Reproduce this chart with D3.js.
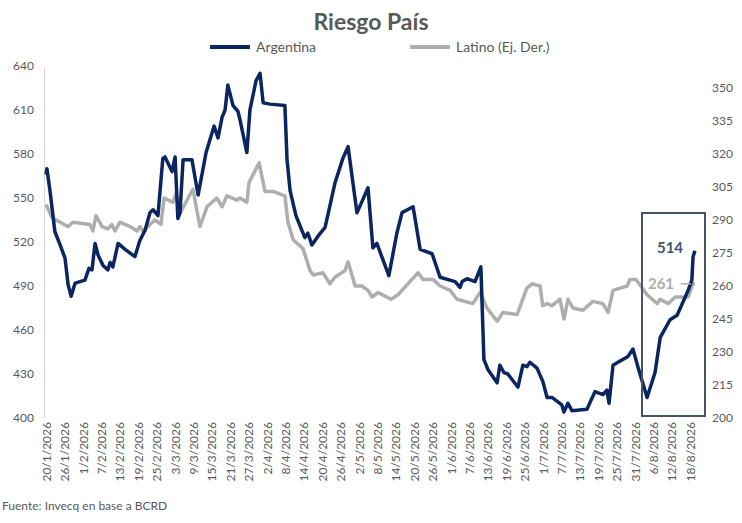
<!DOCTYPE html>
<html>
<head>
<meta charset="utf-8">
<script src="https://cdn.jsdelivr.net/npm/d3@7"></script>
<style>
  body { margin: 0; background: #fff; }
  text { font-family: Lato, "Open Sans", sans-serif; }
</style>
</head>
<body>
<div id="container"></div>
<script>
// days counted from 20/1/2026
const argDays = [0,0.3,1.3,2.9,4.6,6.2,7.2,8.2,9.5,11.1,12.7,14,15,16,17,18.6,20.2,20.9,21.8,23.5,25.8,29,30.6,32.3,33.9,34.9,36.5,38.1,38.8,41.1,42.1,43,43.7,44.7,47.6,49.6,52.2,54.8,56.1,57.4,58.4,59.3,61,62.6,63.3,65.5,66.5,68.5,69.8,70.8,73,77.9,78.6,79.6,81.5,84.4,85.4,86.7,88.7,91,92.3,94.2,96.8,98.5,101.4,102.7,105,106.6,107.9,111.8,114.4,116.1,119.7,122,125.9,128.5,133.4,135,135.7,137.3,139.9,141.8,142.8,144.1,147.1,148,149.3,150.6,153.9,155.5,156.8,157.8,160.1,162,163.4,165,168.2,168.9,170.2,171.5,176.4,179,181.6,182.9,183.6,184.9,186.5,189.8,191.4,193,196,198.6,200.3,203.5,205.8,209.4,210.6,211,211.6];
const argValues = [566,570,555,527,518,509,491,483,492,493,494,502,501,519,511,504,501,506,503,519,515,510,521,528,540,542,538,577,578,568,578,536,540,576,576,552,581,599,591,605,610,627,613,609,603,581,610,630,635,615,614,613,576,555,538,523,526,518,524,530,542,560,577,585,540,546,557,516,519,497,526,540,544,515,512,496,493,489,493,495,493,503,440,433,424,436,431,430,421,436,435,438,434,425,414,414,409,404,410,405,406,418,416,419,410,436,438,442,447,435,414,431,455,467,470,487,494,510,514];

const latDays = [0,2,4.6,7.2,8.8,14.3,15.3,16.3,18.3,20.2,21.5,22.5,24.1,27.4,29.7,30.6,31.6,35.5,37.5,38.5,41.4,42.4,43.7,47.9,50.2,52.5,55.7,57.4,59,62.3,63.3,65.5,66.2,69.5,71.4,74,77.9,78.9,80.6,83.8,86.1,87.1,90.3,92.6,94.2,97.5,98.5,100.8,103,105,106.3,108.3,112.5,114.8,121.3,122.9,126.2,128.5,131.8,134,139.2,141.5,143.8,147.1,149,153.6,156.8,158.5,161.1,162,163.4,165,167.6,168.9,170.2,171.8,175.1,178.3,181.6,183.3,184.9,189.5,190.4,192.4,196,199.3,200.3,202.9,205.2,209.4,211,211.6];
const latValues = [297,291,289,287,289,288,285,292,287,286,288,285,289,287,285,287,285,290,288,300,298,302,293,304,287,296,300,296,301,299,300,298,307,316,303,303,301,289,281,277,267,265,266,261,264,267,271,260,260,258,255,257,254,256,266,263,263,260,258,254,252,257,250,244,248,247,259,261,260,251,252,251,254,245,254,250,249,253,252,248,258,260,263,263,256,252,254,252,255,255,261,261];

const tickLabels = ["20/1/2026","26/1/2026","1/2/2026","7/2/2026","13/2/2026","19/2/2026","25/2/2026","3/3/2026","9/3/2026","15/3/2026","21/3/2026","27/3/2026","2/4/2026","8/4/2026","14/4/2026","20/4/2026","26/4/2026","2/5/2026","8/5/2026","14/5/2026","20/5/2026","26/5/2026","1/6/2026","7/6/2026","13/6/2026","19/6/2026","25/6/2026","1/7/2026","7/7/2026","13/7/2026","19/7/2026","25/7/2026","31/7/2026","6/8/2026","12/8/2026","18/8/2026"];
const leftTicks = [400,430,460,490,520,550,580,610,640];
const rightTicks = [200,215,230,245,260,275,290,305,320,335,350];

const width = 742, height = 523;
const grey = "#595959", navy = "#0b2561", lgrey = "#aeaeae";

const svg = d3.select("#container").append("svg")
  .attr("width", width).attr("height", height);

const x = d3.scaleLinear().domain([0, 210]).range([46, 690]);
const yL = d3.scaleLinear().domain([400, 640]).range([418, 66]);
const yR = d3.scaleLinear().domain([200, 360]).range([418, 66]);

svg.append("text").attr("x", 371).attr("y", 30).attr("text-anchor", "middle")
  .attr("font-size", 23).attr("font-weight", "bold").attr("fill", grey).text("Riesgo País");

// legend
svg.append("line").attr("x1", 210).attr("x2", 250).attr("y1", 47).attr("y2", 47)
  .attr("stroke", navy).attr("stroke-width", 4);
svg.append("text").attr("x", 256).attr("y", 52).attr("font-size", 14).attr("fill", grey).text("Argentina");
svg.append("line").attr("x1", 410).attr("x2", 450).attr("y1", 47).attr("y2", 47)
  .attr("stroke", lgrey).attr("stroke-width", 4);
svg.append("text").attr("x", 456).attr("y", 52).attr("font-size", 14).attr("fill", grey).text("Latino (Ej. Der.)");

// axes
const gL = svg.append("g").attr("transform", "translate(44,0)")
  .call(d3.axisLeft(yL).tickValues(leftTicks).tickSize(0).tickPadding(10));
gL.select(".domain").attr("stroke", "#d9d9d9");
const gR = svg.append("g").attr("transform", "translate(706,0)")
  .call(d3.axisRight(yR).tickValues(rightTicks).tickSize(0).tickPadding(6));
gR.select(".domain").remove();
const gX = svg.append("g").attr("transform", "translate(0,418)")
  .call(d3.axisBottom(x).tickValues(d3.range(0, 211, 6)).tickSize(0)
    .tickFormat((d, i) => tickLabels[i]));
gX.select(".domain").remove();
gX.selectAll("text").attr("transform", "rotate(-90)").attr("text-anchor", "end")
  .attr("dx", "-4").attr("dy", "0.35em").attr("x", 0).attr("y", 0);
svg.selectAll(".tick text").attr("font-family", "Lato, sans-serif").attr("font-size", 12).attr("fill", grey);

// lines
const latData = latDays.map((d, i) => [d, latValues[i]]);
const argData = argDays.map((d, i) => [d, argValues[i]]);
svg.append("path").datum(latData)
  .attr("fill", "none").attr("stroke", lgrey).attr("stroke-width", 3.5).attr("stroke-linejoin", "round")
  .attr("d", d3.line().x(d => x(d[0])).y(d => yR(d[1])));
svg.append("path").datum(argData)
  .attr("fill", "none").attr("stroke", navy).attr("stroke-width", 3.5).attr("stroke-linejoin", "round")
  .attr("d", d3.line().x(d => x(d[0])).y(d => yL(d[1])));

// highlight box
svg.append("rect").attr("x", 642).attr("y", 213).attr("width", 63).attr("height", 203)
  .attr("fill", "none").attr("stroke", "#44546a").attr("stroke-width", 2);
const lastArg = argValues[argValues.length - 1], lastLat = latValues[latValues.length - 1];
svg.append("text").attr("x", 670).attr("y", yL(lastArg) + 2).attr("text-anchor", "middle")
  .attr("font-size", 15).attr("font-weight", "bold").attr("fill", "#44546a").text(lastArg);
svg.append("text").attr("x", 661).attr("y", yR(lastLat) + 5).attr("text-anchor", "middle")
  .attr("font-size", 15).attr("font-weight", "bold").attr("fill", lgrey).text(lastLat);
svg.append("line").attr("x1", 681).attr("x2", 691).attr("y1", yR(lastLat)).attr("y2", yR(lastLat))
  .attr("stroke", lgrey).attr("stroke-width", 1.5);

svg.append("text").attr("x", 2).attr("y", 510).attr("font-size", 12).attr("fill", grey)
  .text("Fuente: Invecq en base a BCRD");
</script>
</body>
</html>
